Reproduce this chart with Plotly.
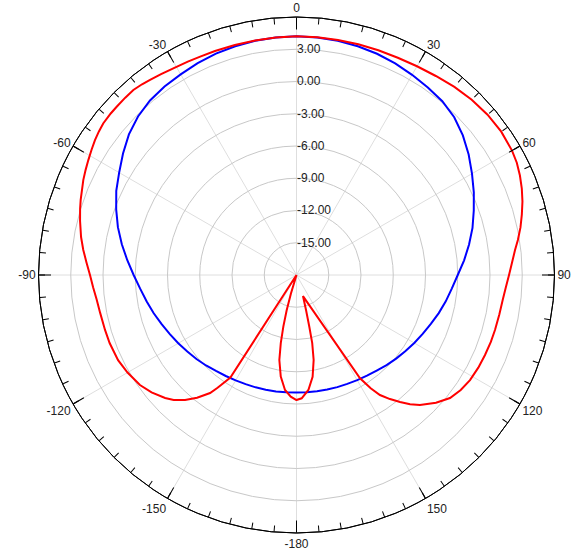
import plotly.graph_objects as go

# ---- data (dB vs angle, degrees clockwise from top) ----
blue_theta = [-180, -175, -170, -165, -160, -155, -150, -145, -140, -135, -130, -125, -120,
              -115, -110, -105, -100, -95, -90, -85, -80, -75, -70, -65, -60, -55, -50,
              -45, -40, -35, -30, -25, -20, -15, -10, -5,
              0, 5, 10, 15, 20, 25, 30, 35, 40, 45, 50, 55, 60, 65, 70, 75, 80, 85, 90,
              95, 100, 105, 110, 115, 120, 125, 130, 135, 140, 145, 150, 155, 160, 165,
              170, 175, 180]
blue_db = [-7.07, -7.04, -7.0, -6.95, -6.88, -6.8, -6.68, -6.53, -6.35, -6.1, -5.85, -5.6, -5.3,
           -5.0, -4.65, -4.25, -3.85, -3.4, -2.85, -2.2, -1.5, -0.8, -0.15, 0.5, 1.05, 1.7, 2.35,
           2.85, 3.2, 3.4, 3.55, 3.75, 3.92, 4.03, 4.12, 4.18,
           4.2, 4.18, 4.12, 4.03, 3.9, 3.72, 3.5, 3.3, 3.1, 2.75, 2.2, 1.55, 0.85, 0.2, -0.45,
           -1.05, -1.7, -2.35, -3.0,
           -3.5, -3.9, -4.3, -4.7, -5.05, -5.35, -5.65, -5.9, -6.15, -6.4, -6.57, -6.7, -6.82,
           -6.9, -6.97, -7.02, -7.05, -7.07]

red_theta = [-180, -177.3, -174.3, -171.2, -168.6, -167, -165.7, -164.4, -163.3, -160,
             -147.2, -145, -143.8, -141, -138.3, -135.5, -133.1, -129, -125.1, -120, -115.5,
             -110, -106, -101, -97, -93.5, -90, -86.5, -83.3, -80, -76, -73, -70.8, -68, -66,
             -63.5, -61.1, -58.5, -56.2, -54, -51.9, -49, -46.9, -44, -41.4, -39, -36.9, -34,
             -30.8, -27, -23.8, -20, -15, -10, -5,
             0, 5, 10, 15, 20, 25, 30, 35, 40, 45, 50, 55, 60, 63, 66, 69, 72, 75, 78, 81,
             83.5, 87, 90, 93.5, 96.9, 101, 105.5, 109, 113, 117, 121.2, 125, 128.7, 132.5,
             136.5, 138.7, 140.8, 143, 145.2, 146.8, 148.4,
             162.9, 164.8, 166.1, 167, 168.6, 171, 174.1, 177.6, 180]
red_db = [-6.37, -6.67, -7.25, -8.43, -9.93, -11.5, -13.04, -14.6, -16.2, -18.0,
          -6.65, -5.2, -4.39, -3.3, -2.42, -1.7, -1.26, -0.65, -0.2, 0.15, 0.39,
          0.5, 0.53, 0.6, 0.73, 0.95, 1.21, 1.58, 1.97, 2.35, 2.75, 3.05, 3.26, 3.5, 3.71,
          3.92, 4.12, 4.35, 4.56, 4.72, 4.85, 4.9, 4.91, 4.93, 4.95, 4.83, 4.69, 4.53,
          4.38, 4.27, 4.2, 4.17, 4.15, 4.15, 4.18,
          4.2, 4.2, 4.2, 4.22, 4.25, 4.3, 4.42, 4.6, 4.85, 5.05, 5.2, 5.25, 5.15, 5.0, 4.75,
          4.45, 4.1, 3.7, 3.3, 2.85,
          2.46, 2.05, 1.77, 1.5, 1.32, 1.22, 1.16, 1.12, 1.05, 0.98, 0.87, 0.65, 0.3, -0.4,
          -1.32, -2.0, -2.76, -3.55, -4.4, -5.4, -6.72,
          -15.95, -14.6, -13.04, -11.5, -9.93, -8.42, -7.25, -6.52, -6.37]

radial_range = [-18, 6]
radial_ticks = [-15, -12, -9, -6, -3, 0, 3]
radial_labels = ["%.2f" % v for v in radial_ticks]
angle_ticks = [0, 30, 60, 90, 120, 150, 180, 210, 240, 270, 300, 330]
angle_labels = ["0", "30", "60", "90", "120", "150", "-180", "-150", "-120", "-90", "-60", "-30"]
minor_ticks = list(range(0, 360, 5))

FONT = "Liberation Sans, Arial, sans-serif"

fig = go.Figure()
fig.add_trace(go.Scatterpolar(r=blue_db, theta=blue_theta, mode="lines",
                              line=dict(color="#0000ff", width=2), subplot="polar",
                              hoverinfo="skip"))
fig.add_trace(go.Scatterpolar(r=red_db, theta=red_theta, mode="lines",
                              line=dict(color="#ff0000", width=2), subplot="polar",
                              hoverinfo="skip"))
# empty trace so the overlay subplot (minor ticks) gets drawn
fig.add_trace(go.Scatterpolar(r=[radial_range[0]], theta=[0], mode="markers",
                              marker=dict(size=1, color="rgba(0,0,0,0)"),
                              subplot="polar2", hoverinfo="skip"))

fig.update_layout(
    width=586, height=556,
    margin=dict(l=38, r=31, t=17, b=23),
    paper_bgcolor="white",
    showlegend=False,
    font=dict(family=FONT, size=12, color="#222222"),
    polar=dict(
        domain=dict(x=[0, 1], y=[0, 1]),
        bgcolor="white",
        angularaxis=dict(direction="clockwise", rotation=90,
                         tickmode="array", tickvals=angle_ticks, ticktext=angle_labels,
                         ticks="inside", ticklen=12, tickcolor="black", tickwidth=1,
                         showline=True, linecolor="black", linewidth=1,
                         showgrid=True, gridcolor="#dedede", gridwidth=1,
                         tickfont=dict(family=FONT, size=12, color="#222222")),
        radialaxis=dict(range=radial_range, tickmode="array", tickvals=radial_ticks,
                        ticktext=radial_labels, angle=90, tickangle=90, showline=False,
                        ticks="", showgrid=True, gridcolor="#c8c8c8", gridwidth=1,
                        tickfont=dict(family=FONT, size=12, color="#222222")),
    ),
    polar2=dict(
        domain=dict(x=[0, 1], y=[0, 1]),
        bgcolor="rgba(0,0,0,0)",
        angularaxis=dict(direction="clockwise", rotation=90,
                         tickmode="array", tickvals=minor_ticks,
                         ticks="inside", ticklen=6, tickcolor="black", tickwidth=1,
                         showticklabels=False, showline=True, linecolor="black",
                         linewidth=1, showgrid=False),
        radialaxis=dict(range=radial_range, visible=False, showgrid=False),
    ),
)

fig.write_html("out.html", config={"displayModeBar": False},
               post_script="document.body.style.margin='0px';")
